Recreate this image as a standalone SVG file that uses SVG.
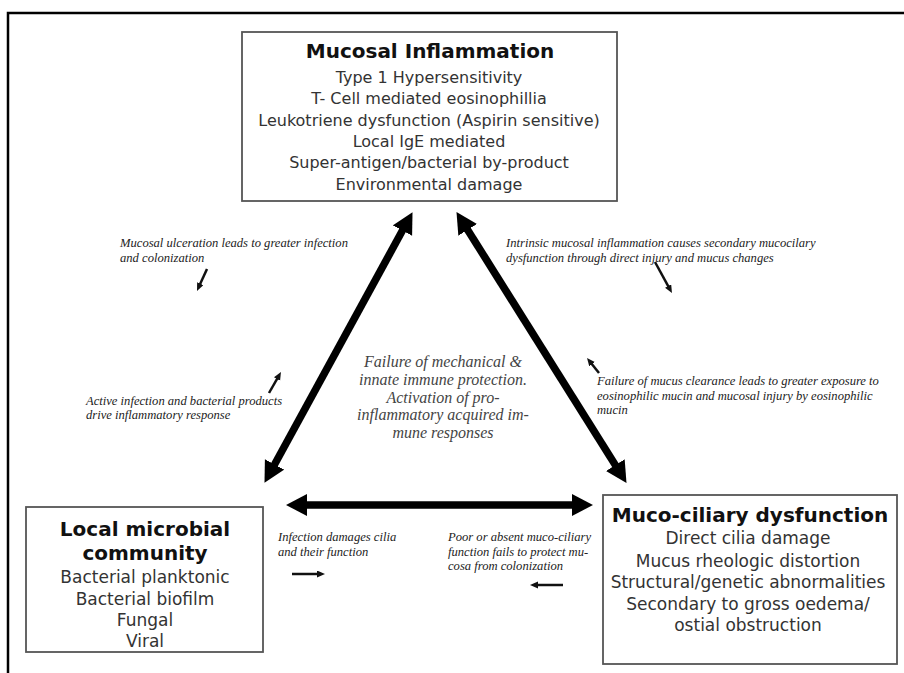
<svg xmlns="http://www.w3.org/2000/svg" width="904" height="673" viewBox="0 0 904 673">
<defs>
<style>
.box{fill:#fff;stroke:#555;stroke-width:1.8}
.title{font-family:"DejaVu Sans","Liberation Sans",sans-serif;font-weight:bold;font-size:20px;fill:#111;text-anchor:middle}
.body{font-family:"DejaVu Sans","Liberation Sans",sans-serif;font-size:16px;fill:#333;text-anchor:middle}
.body17{font-family:"DejaVu Sans","Liberation Sans",sans-serif;font-size:17px;fill:#333;text-anchor:middle}
.note{font-family:"Liberation Serif","Times New Roman",serif;font-style:italic;font-size:12.6px;fill:#222}
.center{font-family:"Liberation Serif","Times New Roman",serif;font-style:italic;font-size:16px;fill:#444;text-anchor:middle}
.big{stroke:#000;stroke-width:7.5;fill:none;marker-start:url(#bh);marker-end:url(#bh)}
.small{stroke:#111;stroke-width:2.5;fill:none;marker-end:url(#sh)}
</style>
<marker id="bh" markerUnits="userSpaceOnUse" markerWidth="24" markerHeight="24" refX="2" refY="11" orient="auto-start-reverse">
<path d="M0,0 L21,11 L0,22 z" fill="#000"/>
</marker>
<marker id="sh" markerUnits="userSpaceOnUse" markerWidth="10" markerHeight="8" refX="1" refY="3.5" orient="auto">
<path d="M0,0 L8,3.5 L0,7 z" fill="#111"/>
</marker>
</defs>
<rect width="904" height="673" fill="#fff"/>
<path d="M8,673 L8,13 L904,13" fill="none" stroke="#000" stroke-width="2.5"/>

<g id="mucosal-inflammation">
<rect class="box" x="242" y="32" width="375" height="169"/>
<text class="title" x="430" y="58">Mucosal Inflammation</text>
<text class="body" x="429" y="83">Type 1 Hypersensitivity</text>
<text class="body" x="429" y="104">T- Cell mediated eosinophillia</text>
<text class="body" x="429" y="126">Leukotriene dysfunction (Aspirin sensitive)</text>
<text class="body" x="429" y="147">Local IgE mediated</text>
<text class="body" x="429" y="168">Super-antigen/bacterial by-product</text>
<text class="body" x="429" y="190">Environmental damage</text>
</g>

<g id="local-microbial-community">
<rect class="box" x="26" y="507" width="237" height="145"/>
<text class="title" x="145" y="536">Local microbial</text>
<text class="title" x="145" y="560">community</text>
<text class="body17" x="145" y="583">Bacterial planktonic</text>
<text class="body17" x="145" y="605">Bacterial biofilm</text>
<text class="body17" x="145" y="626">Fungal</text>
<text class="body17" x="145" y="647">Viral</text>
</g>

<g id="muco-ciliary-dysfunction">
<rect class="box" x="603" y="495" width="294" height="169"/>
<text class="title" x="750" y="522">Muco-ciliary dysfunction</text>
<text class="body17" x="748" y="544">Direct cilia damage</text>
<text class="body17" x="748" y="567">Mucus rheologic distortion</text>
<text class="body17" x="748" y="588">Structural/genetic abnormalities</text>
<text class="body17" x="748" y="610">Secondary to gross oedema/</text>
<text class="body17" x="748" y="631">ostial obstruction</text>
</g>

<g id="connectors">
<line class="big" x1="403.4" y1="228.8" x2="273.6" y2="466.2"/>
<line class="big" x1="466.6" y1="228.2" x2="616.4" y2="466.8"/>
<line class="big" x1="305" y1="505" x2="574" y2="505"/>
<line class="small" x1="207" y1="269" x2="199.9" y2="284.6"/>
<line class="small" x1="655" y1="262" x2="668.6" y2="286.9"/>
<line class="small" x1="269" y1="393" x2="277.5" y2="378.1"/>
<line class="small" x1="599" y1="373" x2="591.4" y2="363.5"/>
<line class="small" x1="292" y1="574" x2="318" y2="574"/>
<line class="small" x1="563" y1="585" x2="537" y2="585"/>
</g>

<g id="annotations">
<text class="note" x="120" y="247">Mucosal ulceration leads to greater infection</text>
<text class="note" x="120" y="262">and colonization</text>
<text class="note" x="506" y="247">Intrinsic mucosal inflammation causes secondary mucocilary</text>
<text class="note" x="506" y="262">dysfunction through direct injury and mucus changes</text>
<text class="note" x="86" y="405">Active infection and bacterial products</text>
<text class="note" x="86" y="419">drive inflammatory response</text>
<text class="note" x="597" y="385">Failure of mucus clearance leads to greater exposure to</text>
<text class="note" x="597" y="399.5">eosinophilic mucin and mucosal injury by eosinophilic</text>
<text class="note" x="597" y="414">mucin</text>
<text class="note" x="278" y="541">Infection damages cilia</text>
<text class="note" x="278" y="556">and their function</text>
<text class="note" x="448" y="541">Poor or absent muco-ciliary</text>
<text class="note" x="448" y="556">function fails to protect mu-</text>
<text class="note" x="448" y="570">cosa from colonization</text>
<text class="center" x="443" y="367">Failure of mechanical &amp;</text>
<text class="center" x="443" y="385">innate immune protection.</text>
<text class="center" x="443" y="403">Activation of pro-</text>
<text class="center" x="443" y="420">inflammatory acquired im-</text>
<text class="center" x="443" y="438">mune responses</text>
</g>
</svg>
